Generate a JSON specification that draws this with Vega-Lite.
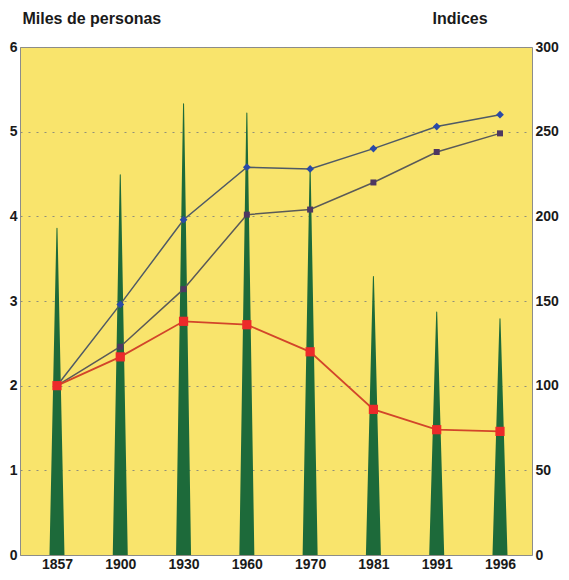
{
  "$schema": "https://vega.github.io/schema/vega-lite/v6.json",
  "autosize": "none",
  "width": 512,
  "height": 508,
  "padding": {"left": 20, "top": 47, "right": 37, "bottom": 25},
  "background": "white",
  "config": {
    "view": {"fill": "#f9e46c", "stroke": "#8c8c8c", "strokeWidth": 1},
    "axis": {
      "labelFont": "Liberation Sans", "labelFontWeight": "bold", "labelFontSize": 14, "labelColor": "#1a1a1a",
      "titleFont": "Liberation Sans", "titleFontWeight": "bold", "titleFontSize": 16, "titleColor": "#1a1a1a"
    }
  },
  "data": {"values": [
    {"year": "1857", "miles": 3.86, "indice1": 100, "indice2": 100, "indice3": 100},
    {"year": "1900", "miles": 4.49, "indice1": 148, "indice2": 123, "indice3": 117},
    {"year": "1930", "miles": 5.33, "indice1": 198, "indice2": 157, "indice3": 138},
    {"year": "1960", "miles": 5.22, "indice1": 229, "indice2": 201, "indice3": 136},
    {"year": "1970", "miles": 4.58, "indice1": 228, "indice2": 204, "indice3": 120},
    {"year": "1981", "miles": 3.29, "indice1": 240, "indice2": 220, "indice3": 86},
    {"year": "1991", "miles": 2.87, "indice1": 253, "indice2": 238, "indice3": 74},
    {"year": "1996", "miles": 2.79, "indice1": 260, "indice2": 249, "indice3": 73}
  ]},
  "layer": [
    {
      "transform": [
        {"stack": "miles", "groupby": ["year"], "as": ["lo", "hi"]},
        {"fold": ["lo", "hi"], "as": ["end", "val"]}
      ],
      "mark": {"type": "trail", "color": "#1d6a3a", "clip": true},
      "encoding": {
        "x": {"field": "year", "type": "ordinal", "sort": null,
          "scale": {"type": "point", "padding": 0.545, "align": 0.536},
          "axis": {"title": null, "labelAngle": 0, "ticks": false, "domain": false, "labelPadding": 2}},
        "y": {"field": "val", "type": "quantitative", "scale": {"domain": [0, 6], "nice": false},
          "axis": {"title": "Miles de personas", "titleAngle": 0, "titleAlign": "left", "titleBaseline": "middle",
            "titleX": 2, "titleY": -29, "values": [0, 1, 2, 3, 4, 5, 6], "ticks": false, "domain": false,
            "labelPadding": 3, "grid": true, "gridDash": [2, 6], "gridColor": "#8f8f7a"}},
        "size": {"field": "end", "type": "ordinal", "scale": {"domain": ["lo", "hi"], "range": [15, 0]}, "legend": null},
        "detail": {"field": "year"},
        "order": {"field": "val", "type": "quantitative"}
      }
    },
    {
      "encoding": {
        "x": {"field": "year", "type": "ordinal", "sort": null}
      },
      "layer": [
        {
          "mark": {"type": "line", "color": "#4f5a66", "strokeWidth": 1.5},
          "encoding": {
            "y": {"field": "indice1", "type": "quantitative", "scale": {"domain": [0, 300], "nice": false},
              "axis": {"orient": "right", "title": "Indices", "titleAngle": 0, "titleAlign": "left", "titleBaseline": "middle",
                "titleX": -100, "titleY": -29, "values": [0, 50, 100, 150, 200, 250, 300], "ticks": false, "domain": false,
                "labelPadding": 3, "grid": false}}
          }
        },
        {
          "mark": {"type": "line", "color": "#5a5a58", "strokeWidth": 1.5},
          "encoding": {"y": {"field": "indice2", "type": "quantitative"}}
        },
        {
          "mark": {"type": "line", "color": "#d2452a", "strokeWidth": 1.8},
          "encoding": {"y": {"field": "indice3", "type": "quantitative"}}
        },
        {
          "mark": {"type": "point", "shape": "diamond", "filled": true, "color": "#2a4aa8", "size": 60, "opacity": 1},
          "encoding": {"y": {"field": "indice1", "type": "quantitative"}}
        },
        {
          "mark": {"type": "point", "shape": "square", "filled": true, "color": "#4e3762", "size": 36, "opacity": 1},
          "encoding": {"y": {"field": "indice2", "type": "quantitative"}}
        },
        {
          "mark": {"type": "point", "shape": "square", "filled": true, "color": "#ec2a2a", "size": 85, "opacity": 1},
          "encoding": {"y": {"field": "indice3", "type": "quantitative"}}
        }
      ]
    }
  ],
  "resolve": {"scale": {"y": "independent"}}
}
